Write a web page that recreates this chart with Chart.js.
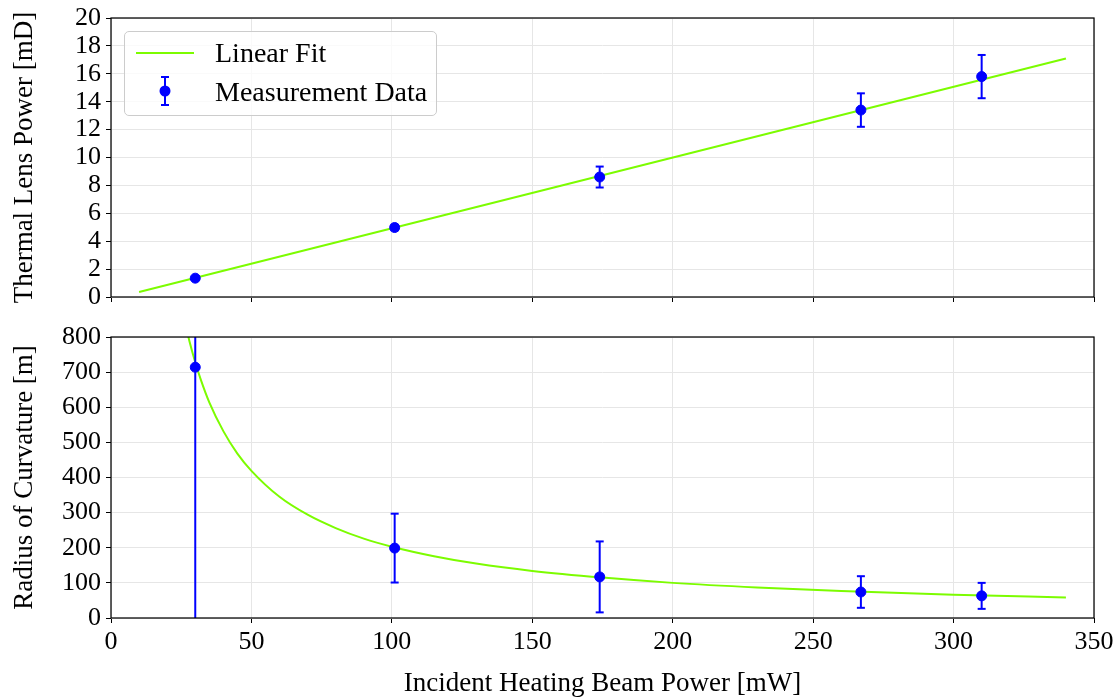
<!DOCTYPE html>
<html><head><meta charset="utf-8">
<script src="https://cdn.jsdelivr.net/npm/chart.js@4.4.0/dist/chart.umd.min.js"></script>
<style>
html,body{margin:0;padding:0;background:#fff;}
#wrap{position:relative;width:1118px;height:700px;overflow:hidden;}
#c1{position:absolute;left:0;top:0;width:1118px;height:315px;}
#c2{position:absolute;left:0;top:315px;width:1118px;height:385px;}
#legend{position:absolute;left:124px;top:31px;width:313px;height:85px;border:1px solid #cccccc;border-radius:5px;background:rgba(255,255,255,0.8);font-family:'Liberation Serif',serif;font-size:28px;color:#000;box-sizing:border-box;}
#legend .row{position:absolute;left:0;width:100%;height:34px;}
#legend svg{position:absolute;left:0;top:0;}
#legend span{position:absolute;left:90px;top:2px;line-height:30px;white-space:nowrap;}
</style></head><body>
<div id="wrap">
<canvas id="c1" width="1118" height="315"></canvas>
<canvas id="c2" width="1118" height="385"></canvas>
<div id="legend">
  <div class="row" style="top:4px"><svg width="80" height="34"><line x1="11" y1="17" x2="69" y2="17" stroke="#7cfc00" stroke-width="2"/></svg><span id="lg1"></span></div>
  <div class="row" style="top:43px"><svg width="80" height="34"><line x1="40" y1="2" x2="40" y2="30" stroke="#0000ff" stroke-width="2"/><line x1="36" y1="2" x2="44" y2="2" stroke="#0000ff" stroke-width="2"/><line x1="36" y1="30" x2="44" y2="30" stroke="#0000ff" stroke-width="2"/><circle cx="40" cy="16" r="5.5" fill="#0000ff"/></svg><span id="lg2"></span></div>
</div>
</div>
<script>
// ---- data ----
const powerX = [30, 101, 174, 267, 310];               // Incident heating beam power [mW]
const lensPower = [1.35, 4.98, 8.6, 13.4, 15.8];       // Thermal lens power [mD]
const lensPowerErr = [0.1, 0.2, 0.75, 1.2, 1.55];
const radius = [714, 199, 117, 74, 63];                // Radius of curvature [m]
const radiusErr = [720, 98, 101, 45, 37];
const lensFitX = [10, 340];
const lensFitY = [0.36, 17.1];
const radiusFitX = [26, 28, 30, 32, 35, 40, 45, 50, 60, 70, 80, 90, 100, 115, 130, 150, 175, 200, 230, 260, 300, 340];
const radiusFitY = [854, 786, 728, 678, 614, 532, 468, 419, 345, 294, 256, 226, 203, 176, 155, 134, 115, 100, 87, 77, 66, 58.5];
const fitLabel = 'Linear Fit';
const dataLabel = 'Measurement Data';

const FONT = "'Liberation Serif', serif";
const GREEN = '#7cfc00', BLUE = '#0000ff';

function datasets(xs, ys, errs, fx, fy) {
  const ds = [];
  ds.push({label: fitLabel, data: fx.map((x, i) => ({x, y: fy[i]})), borderColor: GREEN, borderWidth: 2,
    pointRadius: 0, cubicInterpolationMode: 'monotone', order: 3});
  xs.forEach((x, i) => ds.push({label: '_err' + i, data: [{x, y: ys[i] - errs[i]}, {x, y: ys[i] + errs[i]}],
    borderColor: BLUE, borderWidth: 2, pointStyle: 'line', pointRadius: 4, pointBorderWidth: 2,
    pointBorderColor: BLUE, pointBackgroundColor: BLUE, order: 2}));
  ds.push({label: dataLabel, data: xs.map((x, i) => ({x, y: ys[i]})), showLine: false, pointRadius: 5,
    pointBorderWidth: 1, pointBackgroundColor: BLUE, pointBorderColor: BLUE, order: 1});
  return ds;
}

const frame = {id: 'frame', afterDraw(chart) {
  const a = chart.chartArea, c = chart.ctx;
  c.save(); c.strokeStyle = '#000'; c.lineWidth = 1.25;
  c.strokeRect(a.left, a.top, a.right - a.left, a.bottom - a.top); c.restore();
}};

function opts(cfg) {
  return {
    responsive: false, animation: false, devicePixelRatio: 1,
    layout: {padding: {top: cfg.padTop, right: 24, left: 0, bottom: 0}},
    plugins: {legend: {display: false}, tooltip: {enabled: false}},
    scales: {
      x: {type: 'linear', min: 0, max: 350,
        afterFit: s => { s.height = cfg.xHeight; },
        border: {display: false},
        grid: {color: '#e6e6e6', lineWidth: 1, tickColor: '#000', tickLength: 5, drawTicks: true},
        ticks: {display: cfg.xLabels, stepSize: 50, autoSkip: false, color: '#000', padding: 4, maxRotation: 0,
          font: {family: FONT, size: 26}},
        title: {display: cfg.xLabels, text: 'Incident Heating Beam Power [mW]', color: '#000',
          font: {family: FONT, size: 27}, padding: {top: 0, bottom: 0}}},
      y: {type: 'linear', min: cfg.ymin, max: cfg.ymax,
        afterFit: s => { s.width = 111; },
        border: {display: false},
        grid: {color: '#e6e6e6', lineWidth: 1, tickColor: '#000', tickLength: 5, drawTicks: true},
        ticks: {stepSize: cfg.step, autoSkip: false, color: '#000', padding: 5,
          font: {family: FONT, size: 26, lineHeight: 1}},
        title: {display: true, text: cfg.ytitle, color: '#000', font: {family: FONT, size: 27},
          padding: {top: 9, bottom: 0}}}
    }
  };
}

new Chart(document.getElementById('c1'), {
  type: 'line',
  data: {datasets: datasets(powerX, lensPower, lensPowerErr, lensFitX, lensFitY)},
  options: opts({padTop: 16, xHeight: 18, xLabels: false, ymin: 0, ymax: 20, step: 2, ytitle: 'Thermal Lens Power [mD]'}),
  plugins: [frame]
});
new Chart(document.getElementById('c2'), {
  type: 'line',
  data: {datasets: datasets(powerX, radius, radiusErr, radiusFitX, radiusFitY)},
  options: opts({padTop: 22, xHeight: 82, xLabels: true, ymin: 0, ymax: 800, step: 100, ytitle: 'Radius of Curvature [m]'}),
  plugins: [frame]
});
document.getElementById('lg1').textContent = fitLabel;
document.getElementById('lg2').textContent = dataLabel;
</script>
</body></html>
